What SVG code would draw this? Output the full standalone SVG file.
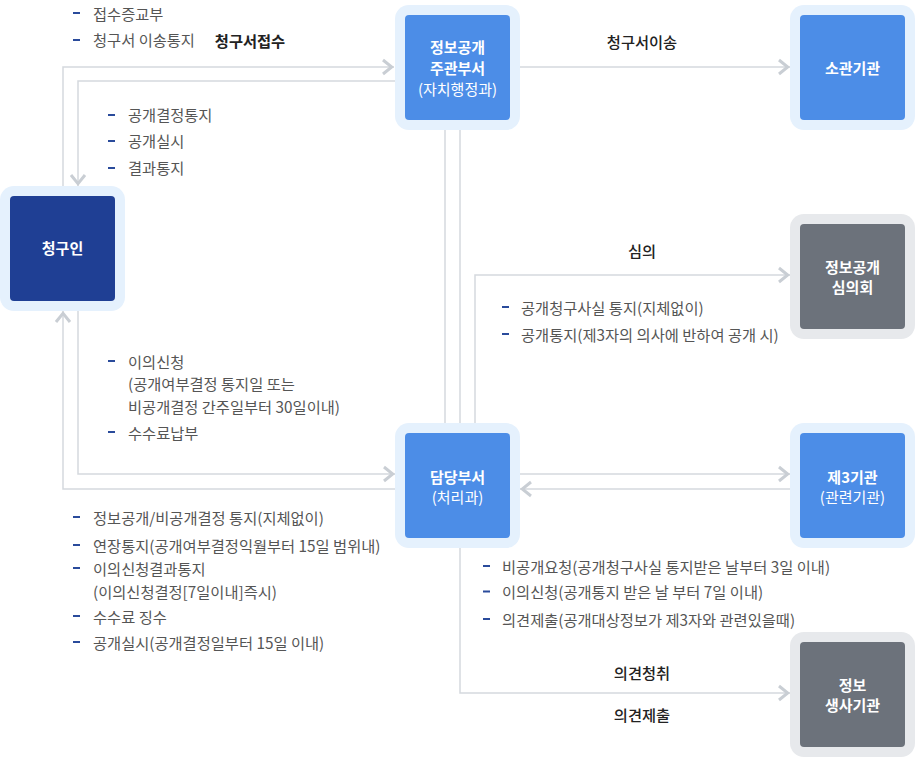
<svg xmlns="http://www.w3.org/2000/svg" width="915" height="757" viewBox="0 0 915 757">
<style>
.halo-b{fill:#E5F1FD}
.halo-g{fill:#E7E9EC}
.box-b{fill:#4C8DE7}
.box-n{fill:#1F3F94}
.box-g{fill:#6C727B}
.nt{font-family:"Noto Sans CJK KR","Noto Sans",sans-serif;font-size:15px;font-weight:700;fill:#FFFFFF;text-anchor:middle}
.nts{font-weight:400}
.conn{fill:none;stroke:#D5D9DE;stroke-width:1.5}
.lt{font-family:"Noto Sans CJK KR","Noto Sans",sans-serif;font-size:15.3px;fill:#555555}
.lb{font-family:"Noto Sans CJK KR","Noto Sans",sans-serif;font-size:15.3px;font-weight:500;fill:#222222;text-anchor:middle}
.lbb{font-weight:700}
.dash{fill:#2A4B9B}
</style>
<defs>
<marker id="chev" markerUnits="userSpaceOnUse" markerWidth="16" markerHeight="20" viewBox="-14 -10 16 20" refX="0" refY="0" orient="auto">
<path d="M-11,-7 L-2.3,0 L-11,7" fill="none" stroke="#C9CED4" stroke-width="3"/>
</marker>
</defs>

<g id="connectors">
<path class="conn" d="M63,186 V67 H394" marker-end="url(#chev)"/>
<path class="conn" d="M395,81 H78 V186" marker-end="url(#chev)"/>
<path class="conn" d="M520,67 H790" marker-end="url(#chev)"/>
<path class="conn" d="M445,130 V423"/>
<path class="conn" d="M460,130 V423"/>
<path class="conn" d="M475,423 V275 H790" marker-end="url(#chev)"/>
<path class="conn" d="M78,311 V474 H395" marker-end="url(#chev)"/>
<path class="conn" d="M395,489 H63 V311" marker-end="url(#chev)"/>
<path class="conn" d="M520,474 H790" marker-end="url(#chev)"/>
<path class="conn" d="M790,489 H520" marker-end="url(#chev)"/>
<path class="conn" d="M460,548 V693 H790" marker-end="url(#chev)"/>
</g>

<g id="labels">
<text class="lb lbb" x="250" y="46.5">청구서접수</text>
<text class="lb" x="642" y="48">청구서이송</text>
<text class="lb" x="642" y="256.5">심의</text>
<text class="lb" x="642" y="679">의견청취</text>
<text class="lb" x="642" y="720.5">의견제출</text>
</g>

<g id="list-top">
<rect class="dash" x="73" y="12" width="7" height="2"/>
<text class="lt" x="93" y="19.5">접수증교부</text>
<rect class="dash" x="73" y="39" width="7" height="2"/>
<text class="lt" x="93" y="45.5">청구서 이송통지</text>
</g>

<g id="list-result">
<rect class="dash" x="108" y="114" width="7" height="2"/>
<text class="lt" x="128" y="120.5">공개결정통지</text>
<rect class="dash" x="108" y="140" width="7" height="2"/>
<text class="lt" x="128" y="147">공개실시</text>
<rect class="dash" x="108" y="167" width="7" height="2"/>
<text class="lt" x="128" y="173.5">결과통지</text>
</g>

<g id="list-appeal">
<rect class="dash" x="108" y="360" width="7" height="2"/>
<text class="lt" x="128" y="367.5">이의신청</text>
<text class="lt" x="128" y="390">(공개여부결정 통지일 또는</text>
<text class="lt" x="128" y="412.5">비공개결정 간주일부터 30일이내)</text>
<rect class="dash" x="108" y="431" width="7" height="2"/>
<text class="lt" x="128" y="438.5">수수료납부</text>
</g>

<g id="list-bottom">
<rect class="dash" x="73" y="516" width="7" height="2"/>
<text class="lt" x="93" y="524">정보공개/비공개결정 통지(지체없이)</text>
<rect class="dash" x="73" y="544" width="7" height="2"/>
<text class="lt" x="93" y="551.5">연장통지(공개여부결정익월부터 15일 범위내)</text>
<rect class="dash" x="73" y="567" width="7" height="2"/>
<text class="lt" x="93" y="574.5">이의신청결과통지</text>
<text class="lt" x="93" y="597.5">(이의신청결정[7일이내]즉시)</text>
<rect class="dash" x="73" y="615" width="7" height="2"/>
<text class="lt" x="93" y="622.5">수수료 징수</text>
<rect class="dash" x="73" y="641" width="7" height="2"/>
<text class="lt" x="93" y="649">공개실시(공개결정일부터 15일 이내)</text>
</g>

<g id="list-committee">
<rect class="dash" x="502" y="306" width="7" height="2"/>
<text class="lt" x="521" y="314">공개청구사실 통지(지체없이)</text>
<rect class="dash" x="502" y="333" width="7" height="2"/>
<text class="lt" x="521" y="340.5">공개통지(제3자의 의사에 반하여 공개 시)</text>
</g>

<g id="list-third">
<rect class="dash" x="483" y="565" width="7" height="2"/>
<text class="lt" x="502" y="572.5">비공개요청(공개청구사실 통지받은 날부터 3일 이내)</text>
<rect class="dash" x="483" y="590.5" width="7" height="2"/>
<text class="lt" x="502" y="598">이의신청(공개통지 받은 날 부터 7일 이내)</text>
<rect class="dash" x="483" y="618" width="7" height="2"/>
<text class="lt" x="502" y="625.5">의견제출(공개대상정보가 제3자와 관련있을때)</text>
</g>

<g id="node-applicant">
<rect class="halo-b" x="0" y="186" width="125" height="125" rx="14"/>
<rect class="box-n" x="10" y="196" width="105" height="105" rx="4"/>
<text class="nt" x="62.5" y="254">청구인</text>
</g>

<g id="node-main-dept">
<rect class="halo-b" x="395" y="5" width="125" height="125" rx="14"/>
<rect class="box-b" x="405" y="15" width="105" height="105" rx="4"/>
<text class="nt" x="457.5" y="52.5">정보공개</text>
<text class="nt" x="457.5" y="74">주관부서</text>
<text class="nt nts" x="457.5" y="94.5">(자치행정과)</text>
</g>

<g id="node-agency">
<rect class="halo-b" x="790" y="5" width="125" height="125" rx="14"/>
<rect class="box-b" x="800" y="15" width="105" height="105" rx="4"/>
<text class="nt" x="852.5" y="74">소관기관</text>
</g>

<g id="node-committee">
<rect class="halo-g" x="790" y="214" width="125" height="125" rx="14"/>
<rect class="box-g" x="800" y="224" width="105" height="105" rx="4"/>
<text class="nt" x="852.5" y="272.5">정보공개</text>
<text class="nt" x="852.5" y="293">심의회</text>
</g>

<g id="node-handling-dept">
<rect class="halo-b" x="395" y="423" width="125" height="125" rx="14"/>
<rect class="box-b" x="405" y="433" width="105" height="105" rx="4"/>
<text class="nt" x="457.5" y="482.5">담당부서</text>
<text class="nt nts" x="457.5" y="502.5">(처리과)</text>
</g>

<g id="node-third-party">
<rect class="halo-b" x="790" y="423" width="125" height="125" rx="14"/>
<rect class="box-b" x="800" y="433" width="105" height="105" rx="4"/>
<text class="nt" x="852.5" y="482.5">제3기관</text>
<text class="nt nts" x="852.5" y="502.5">(관련기관)</text>
</g>

<g id="node-producer">
<rect class="halo-g" x="790" y="632" width="125" height="125" rx="14"/>
<rect class="box-g" x="800" y="642" width="105" height="105" rx="4"/>
<text class="nt" x="852.5" y="690.5">정보</text>
<text class="nt" x="852.5" y="710.5">생사기관</text>
</g>
</svg>
